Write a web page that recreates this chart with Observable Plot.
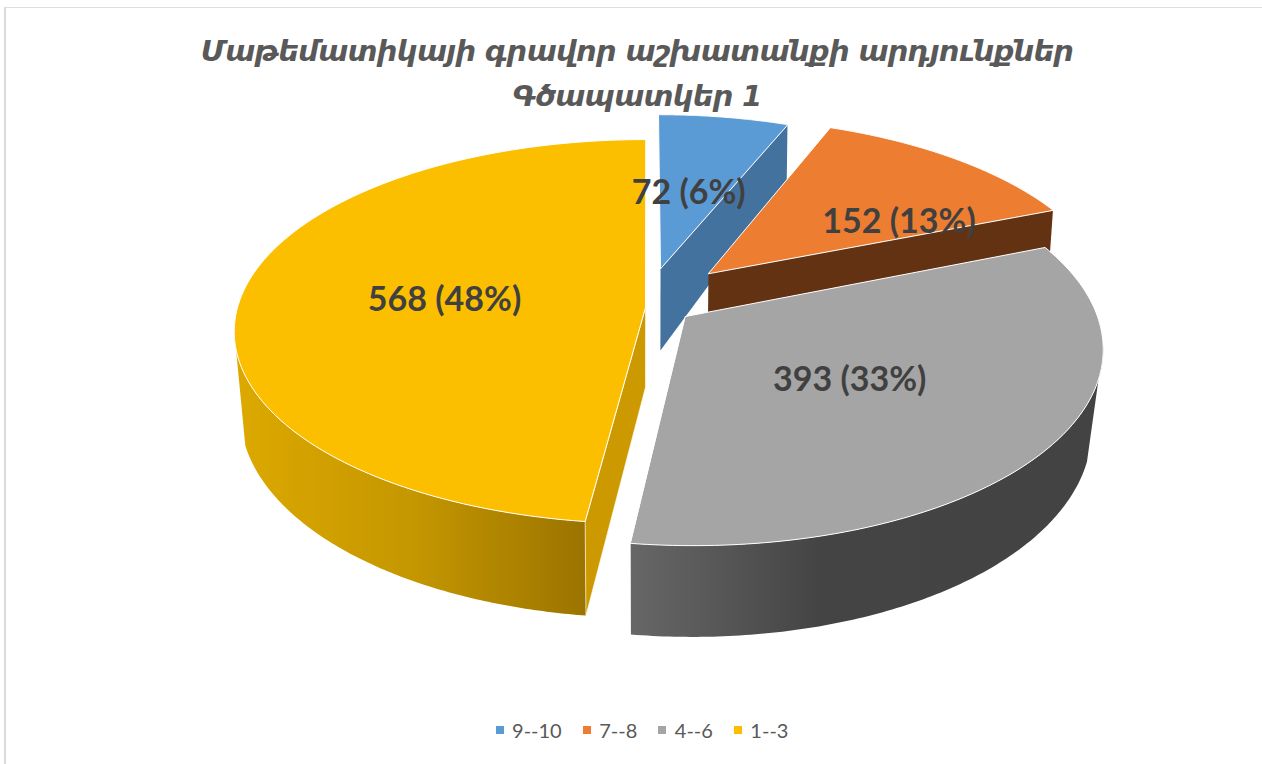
<!DOCTYPE html>
<html><head><meta charset="utf-8">
<script src="https://cdn.jsdelivr.net/npm/d3@7"></script>
<script src="https://cdn.jsdelivr.net/npm/@observablehq/plot@0.6"></script>
<style>
html,body{margin:0;padding:0;background:#fff;overflow:hidden}
#wrap{position:relative;width:1262px;height:764px;box-sizing:border-box}
#frame{position:absolute;left:4px;top:7px;right:0;bottom:0;border-left:2px solid #dadada;border-top:1.5px solid #dedede}
#title{position:absolute;left:0;top:29px;width:1274px;text-align:center;font:italic bold 29px/45px "DejaVu Sans",sans-serif;color:#595959;letter-spacing:-.76px;z-index:2}
#chart{position:absolute;left:0;top:113px}
#legend{position:absolute;left:0;top:718px;width:1262px;height:24px;padding-left:22px;display:flex;justify-content:center;align-items:center;font:20px/24px Lato,sans-serif;color:#595959;box-sizing:border-box}
#legend span.k{display:inline-block;width:8px;height:8px;margin:0 8.5px 0 21px}
#legend span.k:first-child{margin-left:0}
svg text{font-family:Lato,sans-serif}
</style></head><body>
<div id="wrap">
<div id="frame"></div>
<div id="title">Մաթեմատիկայի գրավոր աշխատանքի արդյունքներ<br>Գծապատկեր 1</div>
<div id="chart"></div>
<div id="legend"></div>
</div>
<script>
const categories=["9--10","7--8","4--6","1--3"];
const counts=[72,152,393,568];
const percents=[6,13,33,48];
const topColors=["#5b9bd5","#ed7d31","#a5a5a5","#fcbf00"];
const cutColors=["#44729f","#633213","#a5a5a5","#cc9a00"];
// one perspective ellipse per exploded slice: apex, half axes, perspective, shear, wall depth
const apexX=[660,708,685,645], apexY=[268,273,316,307];
const axisA=[386,396,412,408], axisB=[173,179,195,189];
const persp=[.125,.15,.149,.1255], shear=[2.25,9.4,6.7,0];
const depth=[82,42,78,80], depthGrow=[.355,.05,.17,.177];
const bottomScale=[.995,.993,.975,.985];
const labelU=[.08,.51,.375,-.495], labelV=[-.46,-.30,.31,-.04];

const total=d3.sum(counts);
const starts=d3.cumsum([0,...counts]).map(c=>c/total*2*Math.PI);
const top0=113, H=590;
const pt=(i,th,r=1)=>{const u=r*Math.sin(th),v=-r*Math.cos(th),s=1/(1-persp[i]*v);
  return {x:apexX[i]+(axisA[i]*u+shear[i]*v)*s,y:apexY[i]+axisB[i]*v*s};};
const low=(i,th,r=1)=>{const p=pt(i,th,r),v=-r*Math.cos(th);
  return {x:640+(p.x-640)*bottomScale[i],y:p.y+depth[i]*(1+depthGrow[i]*v)};};
const arc=(f,i,a,b)=>d3.range(0,121).map(k=>f(i,a+(b-a)*k/120));

const topFace=i=>[pt(i,0,0),...arc(pt,i,starts[i],starts[i+1])];
const cutFace=(i,e)=>[pt(i,0,0),pt(i,e),low(i,e),low(i,0,0)];
const wall=(i,a,b,a2,b2)=>[...arc(pt,i,a,b),...arc(low,i,b2,a2)];
const deg=d=>d*Math.PI/180;
const poly=(data,fill,stroke="none",sw=0)=>Plot.line(data,{x:"x",y:"y",fill,stroke,strokeWidth:sw,curve:"linear-closed",strokeLinejoin:"round"});
const defs=()=>{const d=d3.create("svg:defs");
  const g=(id,st)=>{const l=d.append("linearGradient").attr("id",id).attr("x1",0).attr("x2",1).attr("y1",0).attr("y2",0);
    st.forEach(([o,c])=>l.append("stop").attr("offset",o).attr("stop-color",c));};
  g("yw",[[0,"#dda900"],[.5,"#c59700"],[1,"#9b7400"]]);
  g("gw",[[0,"#676767"],[.4,"#444444"],[1,"#434343"]]);
  return d.node();};
const labels=categories.map((c,i)=>{const v=labelV[i],u=labelU[i],s=1/(1-persp[i]*v);
  return {x:apexX[i]+(axisA[i]*u+shear[i]*v)*s,y:apexY[i]+axisB[i]*v*s,t:`${counts[i]} (${percents[i]}%)`};});

const plot=Plot.plot({width:1262,height:H,margin:0,
  style:{background:"transparent"},
  x:{domain:[0,1262],range:[0,1262],axis:null},
  y:{domain:[top0,top0+H],range:[0,H],axis:null},
  marks:[defs,
    poly(cutFace(0,starts[1]),cutColors[0]),
    poly(topFace(0),topColors[0],"#fff",1),
    poly(cutFace(1,starts[2]),cutColors[1]),
    poly(topFace(1),topColors[1],"#fff",1),
    poly(wall(3,starts[3],deg(263),starts[3],deg(254)),"url(#yw)"),
    poly(cutFace(3,starts[3]),cutColors[3],"#fff",.6),
    poly(topFace(3),topColors[3],"#fff",1),
    poly(wall(2,deg(98.6),starts[3],deg(108),starts[3]).reverse(),"url(#gw)"),
    poly(topFace(2),topColors[2],"#fff",1),
    Plot.text(labels,{x:"x",y:"y",text:"t",fontSize:34,fontWeight:700,fill:"#404040"})
  ]});
document.getElementById("chart").append(plot);
const lg=d3.select("#legend");
categories.forEach((c,i)=>{lg.append("span").attr("class","k").style("background",topColors[i]);lg.append("span").text(c);});
</script>
</body></html>
